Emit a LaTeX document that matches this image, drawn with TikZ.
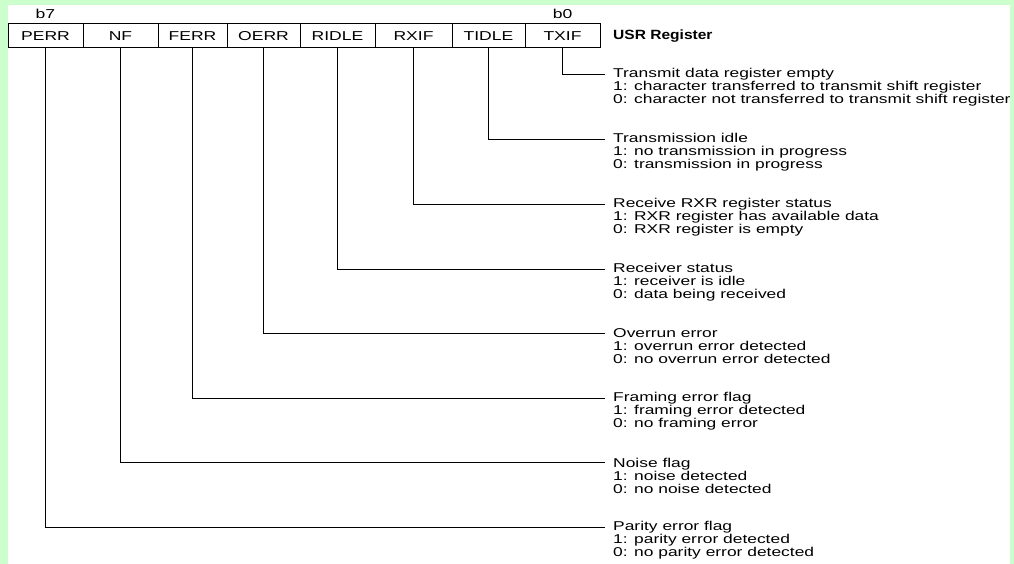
\documentclass[tikz,border=0pt]{standalone}
\usepackage{fontspec}
\setmainfont{Liberation Sans}
\newfontfamily\regfont[FakeStretch=1.36]{Liberation Sans}
\newfontfamily\headfont[FakeStretch=1.16]{Liberation Sans}
\usepackage{tikz}
\usetikzlibrary{positioning}
\definecolor{framegreen}{HTML}{CCFFCC}
\tikzset{
  bitbox/.style={draw, line width=1pt, minimum height=24pt, inner sep=0pt,
    font=\regfont\fontsize{12.9}{13}\selectfont},
  bitlbl/.style={inner sep=0pt, font=\regfont\fontsize{12.9}{13}\selectfont},
  conn/.style={line width=1pt},
  descr/.style={align=left, inner sep=0pt, font=\regfont\fontsize{12.8}{13}\selectfont},
}

\begin{document}
\begin{tikzpicture}[x=1pt,y=-1pt]
		\useasboundingbox (0,0) rectangle (1014,564);
		% frame
		\fill[framegreen] (0,0) rectangle (1014,564);
		\fill[white] (8,5) rectangle (1010,564);
		% register bits
		\node[bitbox, minimum width=75pt] (perr)  at (45.5,36)  {PERR};
		\node[bitbox, minimum width=75pt] (nf)    at (120.5,36) {NF};
		\node[bitbox, minimum width=69pt] (ferr)  at (192.5,36) {FERR};
		\node[bitbox, minimum width=73pt] (oerr)  at (263.5,36) {OERR};
		\node[bitbox, minimum width=75pt] (ridle) at (337.5,36) {RIDLE};
		\node[bitbox, minimum width=77pt] (rxif)  at (413.5,36) {RXIF};
		\node[bitbox, minimum width=73pt] (tidle) at (488.5,36) {TIDLE};
		\node[bitbox, minimum width=75pt] (txif)  at (562.5,36) {TXIF};
		\node[bitlbl, above=4.5pt of perr] (bseven) {b7};
		\node[bitlbl, above=4.5pt of txif] (bzero) {b0};
		\node[inner sep=0pt, anchor=west, font=\headfont\bfseries\fontsize{13.4}{13}\selectfont] (title) at (613,36) {USR Register};
		% line ends
		\coordinate (txife)  at (605,74.5);
		\coordinate (tidlee) at (605,139.5);
		\coordinate (rxife)  at (605,204.5);
		\coordinate (ridlee) at (605,269);
		\coordinate (oerre)  at (605,333.5);
		\coordinate (ferre)  at (605,398);
		\coordinate (nfe)    at (605,462.5);
		\coordinate (perre)  at (605,527);
		% connectors
		\draw[conn] (txif.south)  |- (txife);
		\draw[conn] (tidle.south) |- (tidlee);
		\draw[conn] (rxif.south)  |- (rxife);
		\draw[conn] (ridle.south) |- (ridlee);
		\draw[conn] (oerr.south)  |- (oerre);
		\draw[conn] (ferr.south)  |- (ferre);
		\draw[conn] (nf.south)    |- (nfe);
		\draw[conn] (perr.south)  |- (perre);
		% descriptions
		\node[descr, right=8pt of txife, yshift=-13pt] (txifd) {Transmit data register empty\\1: character transferred to transmit shift register\\0: character not transferred to transmit shift register};
		\node[descr, right=8pt of tidlee, yshift=-13pt] (tidled) {Transmission idle\\1: no transmission in progress\\0: transmission in progress};
		\node[descr, right=8pt of rxife, yshift=-13pt] (rxifd) {Receive RXR register status\\1: RXR register has available data\\0: RXR register is empty};
		\node[descr, right=8pt of ridlee, yshift=-13pt] (ridled) {Receiver status\\1: receiver is idle\\0: data being received};
		\node[descr, right=8pt of oerre, yshift=-13pt] (oerrd) {Overrun error\\1: overrun error detected\\0: no overrun error detected};
		\node[descr, right=8pt of ferre, yshift=-13pt] (ferrd) {Framing error flag\\1: framing error detected\\0: no framing error};
		\node[descr, right=8pt of nfe, yshift=-13pt] (nfd) {Noise flag\\1: noise detected\\0: no noise detected};
		\node[descr, right=8pt of perre, yshift=-13pt] (perrd) {Parity error flag\\1: parity error detected\\0: no parity error detected};
	\end{tikzpicture}
\end{document}
